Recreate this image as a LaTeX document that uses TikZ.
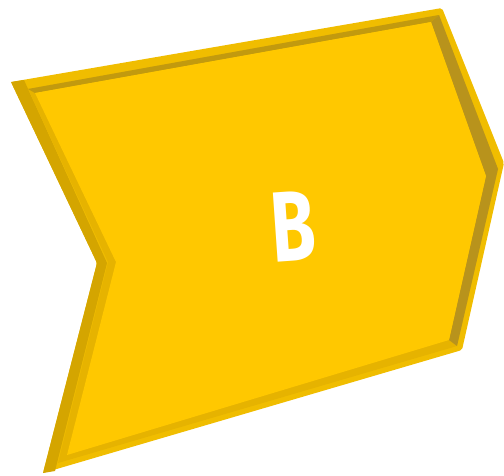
\documentclass[tikz,border=0pt]{standalone}
\usepackage{fontspec}
\newfontfamily\signfont{Fira Sans}
\definecolor{faceyel}{HTML}{FFC800}
\definecolor{rimyel}{HTML}{F0BD00}
\definecolor{sideyel}{HTML}{D4A500}
\definecolor{wallyel}{HTML}{E6B300}
\definecolor{shadeyel}{HTML}{B8931C}
\definecolor{lineyel}{HTML}{C29A0E}

\begin{document}
\begin{tikzpicture}[x=1pt, y=-1pt, lbl/.style={text=white, font=\signfont\bfseries\fontsize{100}{100}\selectfont}]
	\useasboundingbox (0,0) rectangle (504,475);
	% outer edge of the frame
	\coordinate (o1) at (11,82); \coordinate (o2) at (442,8); \coordinate (o3) at (504,163);
	\coordinate (o4) at (462,350); \coordinate (o5) at (43,473); \coordinate (o6) at (97,263);
	% inner edge of the rim
	\coordinate (i1) at (28,89); \coordinate (i2) at (439,15); \coordinate (i3) at (498,169);
	\coordinate (i4) at (457,346); \coordinate (i5) at (58,463); \coordinate (i6) at (108,262);
	% face
	\coordinate (f1) at (35,93); \coordinate (f2) at (431,22); \coordinate (f3) at (486,176);
	\coordinate (f4) at (449,340); \coordinate (f5) at (67,455); \coordinate (f6) at (116,262);
	\fill[rimyel, rounded corners=2pt] (o1) -- (o2) -- (o3) -- (o4) -- (o5) -- (o6) -- cycle;
	\fill[sideyel] (o1) -- (24,80) -- (107,263) -- (55,471) -- (o5) -- (o6) -- cycle;
	\fill[wallyel] (i1) -- (i2) -- (i3) -- (i4) -- (i5) -- (i6) -- cycle;
	\fill[shadeyel] (i2) -- (i3) -- (i4) -- (f4) -- (f3) -- (f2) -- cycle;
	\fill[lineyel] (i1) -- (i2) -- (f2) -- (f1) -- cycle;
	\fill[faceyel] (f1) -- (f2) -- (f3) -- (f4) -- (f5) -- (f6) -- cycle;
	\node[lbl, rotate=4, xscale=0.72] (sign) at (293,226) {B};
\end{tikzpicture}
\end{document}
